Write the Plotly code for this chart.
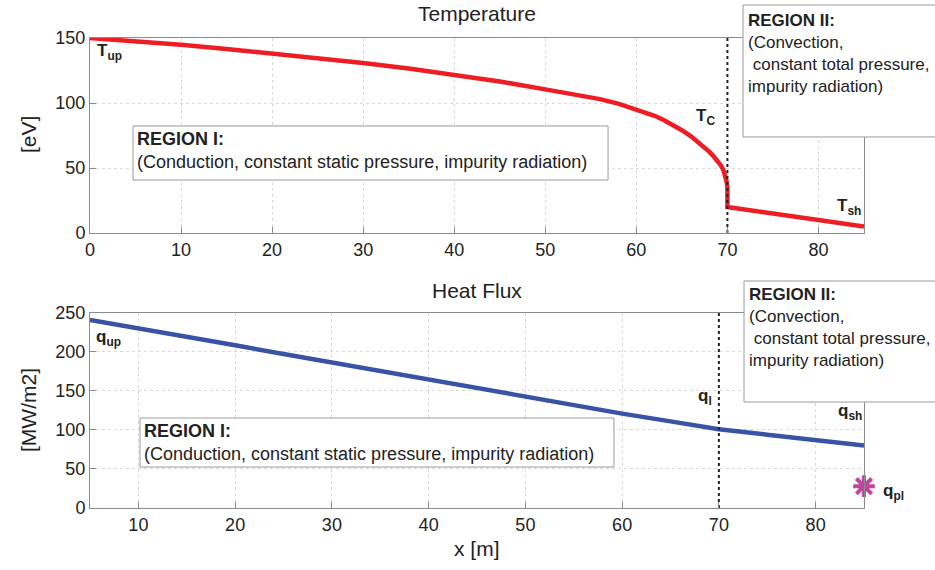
import plotly.graph_objects as go

# ---- data ----
t_x = [0, 5, 10, 15, 20, 25, 30, 35, 40, 45, 50, 52, 54, 56, 58, 60, 61, 62, 63, 64, 65, 66, 67, 68,
       68.5, 69, 69.3, 69.55, 69.75, 69.9, 70, 70, 75, 80, 85]
t_y = [150, 147.6, 144.8, 141.6, 138.2, 134.6, 130.7, 126.6, 122, 116.6, 110.5, 108.2, 105.9, 103.0, 99.5, 95.3,
       92.9, 90.2, 87.0, 83.3, 79.1, 74.4, 69.0, 62.6, 58.8, 54.7, 51.8, 48.6, 45, 40, 35, 20, 15, 10, 5]

q_x = [5, 10, 15, 20, 25, 30, 35, 40, 45, 50, 55, 60, 65, 70, 75, 80, 85]
q_y = [241, 230.5, 219.5, 208.5, 197.5, 186.5, 175.5, 164.5, 153.5, 142.5, 131.5, 121, 111, 101, 94, 87, 80]

qpl_x = [85]
qpl_y = [28]

x_sep = [70, 70]
t_sep = [0, 150]
q_sep = [0, 250]

top_ticks = [0, 10, 20, 30, 40, 50, 60, 70, 80]
bot_ticks = [10, 20, 30, 40, 50, 60, 70, 80]

FONT = "Liberation Sans, Arial, sans-serif"
RED = "#ee1d23"
BLUE = "#3953a4"
MAG = "#c0459d"
AX = "#8c8c8c"
TXT = "#222222"

fig = go.Figure()
fig.add_trace(go.Scatter(x=t_x, y=t_y, mode="lines", line=dict(color=RED, width=4.5),
                         xaxis="x", yaxis="y", showlegend=False))
fig.add_trace(go.Scatter(x=x_sep, y=t_sep, mode="lines", line=dict(color="#222", width=2, dash="dot"),
                         xaxis="x", yaxis="y", showlegend=False))
fig.add_trace(go.Scatter(x=q_x, y=q_y, mode="lines", line=dict(color=BLUE, width=4.5),
                         xaxis="x2", yaxis="y2", showlegend=False))
fig.add_trace(go.Scatter(x=x_sep, y=q_sep, mode="lines", line=dict(color="#222", width=2, dash="dot"),
                         xaxis="x2", yaxis="y2", showlegend=False))
fig.add_trace(go.Scatter(x=qpl_x, y=qpl_y, mode="markers", cliponaxis=False,
                         marker=dict(symbol="asterisk-open", size=18, color=MAG, line=dict(color=MAG, width=4)),
                         xaxis="x2", yaxis="y2", showlegend=False))

axis_common = dict(showline=True, mirror=True, linecolor=AX, linewidth=1, ticks="inside", ticklen=6,
                   tickcolor=AX, showgrid=True, gridcolor="#d9d9d9", griddash="dot", gridwidth=1,
                   zeroline=False, tickfont=dict(family=FONT, size=18, color=TXT))

fig.update_layout(
    width=935, height=570,
    margin=dict(l=90, r=71, t=38, b=62),
    plot_bgcolor="white", paper_bgcolor="white",
    font=dict(family=FONT, color=TXT),
    xaxis=dict(axis_common, domain=[0, 1], range=[0, 85], tickvals=top_ticks, anchor="y"),
    yaxis=dict(axis_common, domain=[0.585, 1], range=[0, 150], tickvals=[0, 50, 100, 150], anchor="x"),
    xaxis2=dict(axis_common, domain=[0, 1], range=[5, 85], tickvals=bot_ticks, anchor="y2"),
    yaxis2=dict(axis_common, domain=[0, 0.415], range=[0, 250], tickvals=[0, 50, 100, 150, 200, 250], anchor="x2"),
)

# region boxes
boxes = [
    (0.0556, 0.6979, 0.6693, 0.8128),
    (0.8437, 0.7894, 1.3, 1.0702),
    (0.0646, 0.0872, 0.677, 0.1915),
    (0.8450, 0.2255, 1.3, 0.4830),
]
for x0, y0, x1, y1 in boxes:
    fig.add_shape(type="rect", xref="paper", yref="paper", x0=x0, y0=y0, x1=x1, y1=y1,
                  line=dict(color="#9a9a9a", width=1), fillcolor="white", layer="above")

def ann(text, x, y, xref="paper", yref="paper", size=16, xanchor="left", yanchor="top", **kw):
    fig.add_annotation(text=text, x=x, y=y, xref=xref, yref=yref, showarrow=False,
                       xanchor=xanchor, yanchor=yanchor, align="left",
                       font=dict(family=FONT, size=size, color=TXT), **kw)

reg1 = "<b>REGION I:</b><br>(Conduction, constant static pressure, impurity radiation)"
reg2 = "<b>REGION II:</b><br>(Convection,<br> constant total pressure,<br>impurity radiation)"
ann(reg1, (135 - 90) / 774, (508 - 127) / 470, size=18)
ann(reg2, (746 - 90) / 774, (508 - 9) / 470, size=17)
ann(reg1, (142 - 90) / 774, (508 - 419) / 470, size=18)
ann(reg2, (747 - 90) / 774, (508 - 283) / 470, size=17)

# point labels
ann("<b>T<sub>up</sub></b>", 0.5, 139, xref="x", yref="y", size=17, yanchor="middle")
ann("<b>T<sub>C</sub></b>", 66.3, 89, xref="x", yref="y", size=17, yanchor="middle")
ann("<b>T<sub>sh</sub></b>", 81.8, 20, xref="x", yref="y", size=17, yanchor="middle")
ann("<b>q<sub>up</sub></b>", 5.4, 218, xref="x2", yref="y2", size=17, yanchor="middle")
ann("<b>q<sub>l</sub></b>", 67.6, 142, xref="x2", yref="y2", size=17, yanchor="middle")
ann("<b>q<sub>sh</sub></b>", 82.1, 123, xref="x2", yref="y2", size=17, yanchor="middle")
ann("<b>q<sub>pl</sub></b>", (881 - 90) / 774, (508 - 492) / 470, size=17, yanchor="middle")

# titles
ann("Temperature", 0.5, (508 - 14) / 470, size=21, xanchor="center", yanchor="middle")
ann("Heat Flux", 0.5, (508 - 290) / 470, size=21, xanchor="center", yanchor="middle")
ann("x [m]", 0.5, (508 - 548) / 470, size=21, xanchor="center", yanchor="middle")
ann("[eV]", (28 - 90) / 774, (508 - 135) / 470, size=21, xanchor="center", yanchor="middle", textangle=-90)
ann("[MW/m2]", (28 - 90) / 774, (508 - 410) / 470, size=21, xanchor="center", yanchor="middle", textangle=-90)

fig.write_html("out.html")
